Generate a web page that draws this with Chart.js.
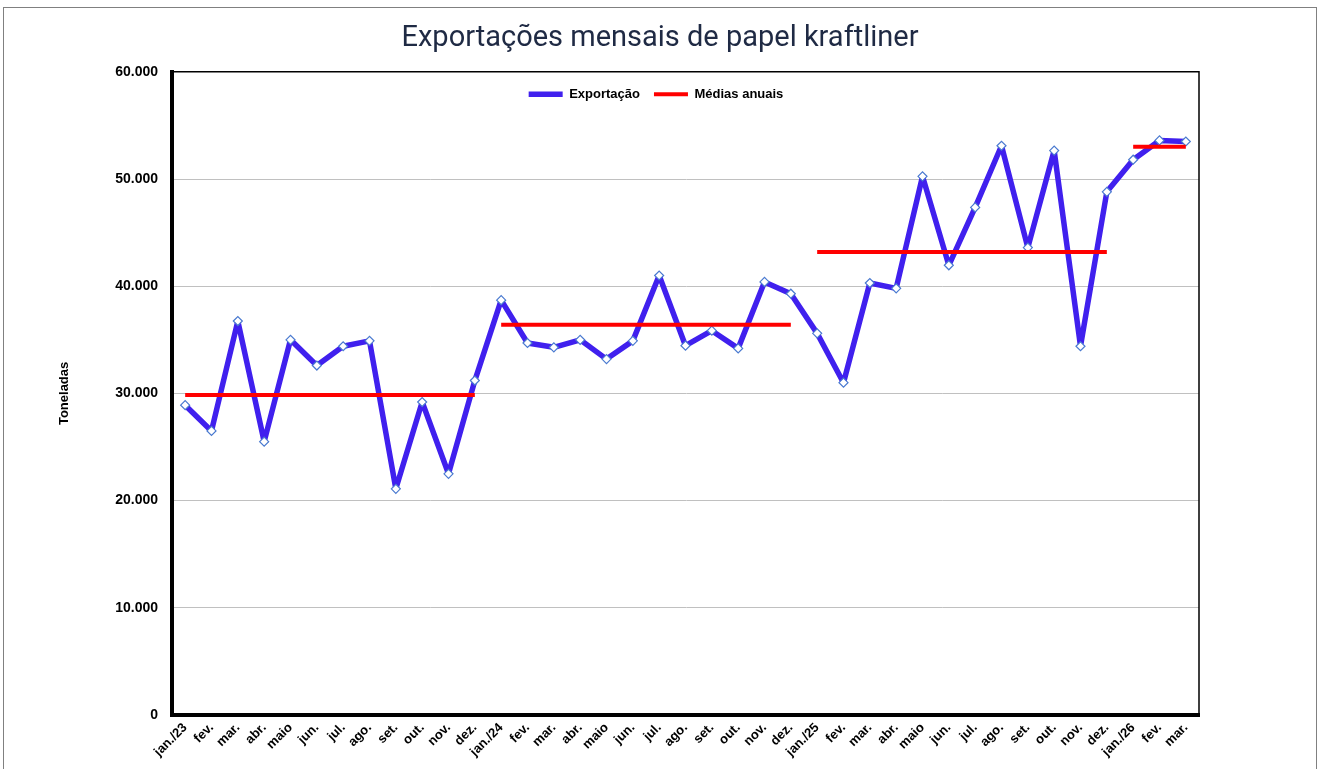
<!DOCTYPE html>
<html lang="pt-BR">
<head>
<meta charset="utf-8">
<title>Exportações mensais de papel kraftliner</title>
<script src="https://cdn.jsdelivr.net/npm/chart.js@4.4.1/dist/chart.umd.min.js"></script>
<style>
  html, body { margin: 0; padding: 0; background: #fff; }
  #chart { display: block; }
</style>
</head>
<body>
<canvas id="chart" width="1320" height="769"></canvas>
<script>
'use strict';

// meses (jan/23 a mar/26)
let meses = ['jan./23','fev.','mar.','abr.','maio','jun.','jul.','ago.','set.','out.','nov.','dez.',
             'jan./24','fev.','mar.','abr.','maio','jun.','jul.','ago.','set.','out.','nov.','dez.',
             'jan./25','fev.','mar.','abr.','maio','jun.','jul.','ago.','set.','out.','nov.','dez.',
             'jan./26','fev.','mar.'];

// exportação mensal, toneladas
let exportacao = [28900, 26500, 36750, 25500, 35000, 32600, 34400, 34900, 21100, 29200, 22500, 31200,
                  38700, 34700, 34300, 35000, 33200, 34900, 41000, 34450, 35850, 34200, 40400, 39300,
                  35600, 31000, 40300, 39800, 50250, 41950, 47350, 53100, 43600, 52650, 34400, 48800,
                  51800, 53600, 53500];

// médias anuais
let anos = ['2023', '2024', '2025', '2026'];
let mediasAnuais = [29850, 36400, 43200, 53000];

let yTicks = [0, 10000, 20000, 30000, 40000, 50000, 60000];

// cada mês recebe a média do seu ano
let mediasMes = meses.map((m, i) => mediasAnuais[Math.floor(i / 12)]);

function formatNum(v)
{
    return String(v).replace(/\B(?=(\d{3})+(?!\d))/g, '.');
}

let moldura = {
    id: 'moldura',
    beforeLayout(chart) {
        // legenda dentro da área do gráfico, mas em linha
        chart.legend.isHorizontal = () => true;
    },
    afterLayout(chart) {
        let lg = chart.legend;
        lg.left = 0;
        lg.right = chart.width - 8;
        lg.top = chart.chartArea.top + 2;
        lg.bottom = lg.top + lg.height;
    },
    beforeDraw(chart) {
        let c = chart.ctx;
        c.save();
        c.fillStyle = '#fff';
        c.fillRect(0, 0, chart.width, chart.height);
        c.strokeStyle = '#808080';
        c.lineWidth = 1;
        c.strokeRect(3.5, 7.5, 1313, 800);
        c.restore();
    },
    afterDatasetsDraw(chart) {
        let a = chart.chartArea;
        let c = chart.ctx;
        c.save();
        c.strokeStyle = '#000';
        c.lineWidth = 1.5;
        c.beginPath();
        c.moveTo(a.left, a.top);
        c.lineTo(a.right, a.top);
        c.lineTo(a.right, a.bottom);
        c.stroke();
        c.restore();
    }
};

let ctx = document.getElementById('chart').getContext('2d');
let myChart = new Chart(ctx, {
    type: 'line',
    data: {
        labels: meses,
        datasets: [{
            label: 'Exportação',
            data: exportacao,
            borderColor: '#4020ee',
            backgroundColor: '#4020ee',
            borderWidth: 5.5,
            borderJoinStyle: 'round',
            tension: 0,
            pointStyle: 'rectRot',
            pointRadius: 4.5,
            pointBackgroundColor: '#fff',
            pointBorderColor: '#4a7ad0',
            pointBorderWidth: 1.2,
            order: 2
        },
        {
            label: 'Médias anuais',
            data: mediasMes,
            borderColor: '#ff0000',
            backgroundColor: '#ff0000',
            borderWidth: 4,
            pointRadius: 0,
            tension: 0,
            order: 1,
            segment: {
                borderColor: s => Math.floor(s.p0DataIndex / 12) !== Math.floor(s.p1DataIndex / 12) ? 'rgba(0,0,0,0)' : undefined
            }
        }]
    },
    options: {
        responsive: false,
        animation: false,
        layout: { padding: 0 },
        plugins: {
            title: {
                display: true,
                text: 'Exportações mensais de papel kraftliner',
                color: '#1f2a44',
                font: { family: 'Roboto', size: 29, weight: 'normal' },
                padding: { top: 21, bottom: 16 }
            },
            legend: {
                position: 'chartArea',
                labels: {
                    usePointStyle: true,
                    pointStyle: 'line',
                    pointStyleWidth: 34,
                    padding: 14,
                    color: '#000',
                    font: { family: 'Liberation Sans', size: 13, weight: 'bold' },
                    sort: (a, b) => a.datasetIndex - b.datasetIndex,
                    generateLabels: chart => Chart.defaults.plugins.legend.labels.generateLabels(chart).map(it => {
                        let ds = chart.data.datasets[it.datasetIndex];
                        it.lineWidth = ds.borderWidth;
                        it.strokeStyle = ds.borderColor;
                        return it;
                    })
                }
            },
            tooltip: { enabled: false }
        },
        scales: {
            x: {
                offset: true,
                grid: { display: false, drawTicks: false },
                border: { display: true, color: '#000', width: 4 },
                ticks: {
                    autoSkip: false,
                    minRotation: 45,
                    maxRotation: 45,
                    padding: 5,
                    color: '#000',
                    font: { family: 'Liberation Sans', size: 13, weight: 'bold' }
                },
                afterFit: s => { s.height = 54; }
            },
            y: {
                min: 0,
                max: 60000,
                afterBuildTicks: s => { s.ticks = yTicks.map(v => ({ value: v })); },
                grid: { color: '#c0c0c0', lineWidth: 1, drawTicks: false },
                border: { display: true, color: '#000', width: 4 },
                ticks: {
                    padding: 14,
                    color: '#000',
                    font: { family: 'Liberation Sans', size: 14, weight: 'bold' },
                    callback: v => formatNum(v)
                },
                title: {
                    display: true,
                    text: 'Toneladas',
                    color: '#000',
                    font: { family: 'Liberation Sans', size: 13, weight: 'bold' },
                    padding: { top: 57, bottom: 0 }
                },
                afterFit: s => { s.width = 172; }
            },
            // eixo vazio só para reservar a margem direita
            yDir: {
                position: 'right',
                display: true,
                grid: { display: false, drawTicks: false },
                border: { display: false },
                ticks: { display: false },
                afterFit: s => { s.width = 121; }
            }
        }
    },
    plugins: [moldura]
});
</script>
</body>
</html>
